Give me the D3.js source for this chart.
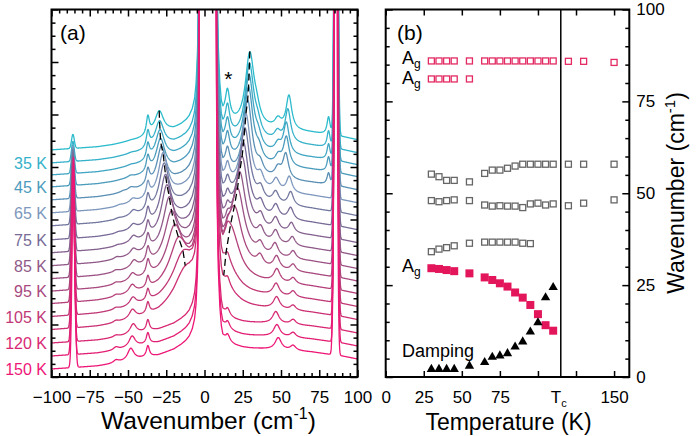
<!DOCTYPE html>
<html><head><meta charset="utf-8">
<script src="https://cdn.jsdelivr.net/npm/d3@7"></script>
<style>
body{margin:0;background:#fff;}
svg{display:block;font-family:"Liberation Sans",Arial,Helvetica,sans-serif;}
</style></head><body>
<svg id="c" width="697" height="436"></svg>
<script>
// ---------- data ----------
const temps = [30,35,40,45,55,65,70,75,80,85,90,95,100,105,110,120,130,150];
const labelTemps = [35,45,65,75,85,95,105,120,150];
// panel (b): mode frequencies (cm-1)
const agHigh = [86.0,86.0,86.0,86.0,86.0,86.0,86.0,86.0,86.0,86.0,86.0,86.0,86.0,86.0,86.0,85.9,85.9,85.6];
const agLowT = [30,35,40,45,55];
const agLow = [81.1,81.1,81.1,81.1,81.1];
const grayTop = [55.2,54.5,53.5,53.5,53.1,55.4,56.3,56.3,56.8,57.4,57.9,57.9,57.9,57.9,57.9,57.9,57.9,57.9];
const grayMid = [48.0,47.7,48.0,48.2,48.0,46.8,46.5,46.6,46.5,46.5,46.1,47.1,47.3,46.8,47.1,46.6,47.3,48.2];
const grayLowT = [30,35,40,45,55,65,70,75,80,85,90,95];
const grayLow = [34.1,34.8,35.2,35.7,36.4,36.7,36.7,36.7,36.7,36.7,36.4,36.3];
const softT = [30,35,40,45,55,65,70,75,80,85,90,95,100,105,110];
const softFreq = [29.6,29.4,29.1,28.8,28.2,27.1,26.4,25.5,24.6,23.0,21.6,19.6,17.1,14.1,12.6];
const damping = [2.1,2.1,2.1,2.1,3.0,4.0,5.4,5.8,6.4,8.2,9.6,12.3,14.8,21.6,24.4];
const Tc = 115;

// panel (a): spectra (arbitrary intensity units)
const offsets = [22.7,21.4,20.2,19.0,17.7,16.4,15.1,13.7,12.4,11.1,9.8,8.55,7.3,6.0,4.7,3.4,2.1,0.8];
const bgWavesL = [-100,-90,-80,-70,-60,-50,-40,-30,-25,-20,-15,-12,-10,-8,-6.5,-5.5,-4.5,-4,-3.7,-3.4];
const bgLevelsL = [0,0.1,0.2,0.3,0.5,0.8,1.1,1.4,1.7,2.0,2.5,2.9,3.3,4.0,5.0,6.5,10,15,22,40];
const bgWavesR = [7.6,7.9,8.3,9,10,11,12,14,17,20,25,30,40,50,60,70,80,90,100];
const bgLevelsR = [40,25,16,10,6.2,4.2,3.3,2.8,2.6,2.4,2.2,2.1,2.0,1.9,1.8,1.7,1.5,1.3,1.0];
const softStokes = [7.4,7.6,7.7,7.7,7.7,7.6,7.5,7.4,7.3,7.0,6.6,5.9,4.9,2.7,1.6];
const softAnti = [2.4,2.7,3.0,3.3,3.8,4.4,4.6,4.8,5.0,5.0,4.8,4.5,4.2,3.8,3.4];
const softWidth = [3.5,3.5,3.5,3.5,3.5,3.7,3.9,4.1,4.4,4.8,5.3,6.0,7.0,8.5,9.5];
const mode86Stokes = [70,70,70,70,70,70,70,70,70,70,70,70,70,70,70,70,70,70];
const mode86Anti = [1.4,2.0,2.8,3.6,5.0,6.5,7.5,8.5,9.5,10.5,11.5,12.5,13.5,14.5,15.5,17,18.5,21];
const mode81Stokes = [1.8,1.7,1.6,1.5,1.2];
const grayTopStokes = [3.4,3.3,3.1,2.9,2.5,1.6,1.4,1.2,1.0,0.9,0.8,0.7,0.6,0.6,0.5,0.5,0.5,0.5];
const grayTopAnti = [0,0,0,0,0.1,0.1,0.1,0.1,0.1,0.2,0.2,0.2,0.2,0.2,0.2,0.2,0.3,0.3];
const grayMidStokes = [0.9,0.9,0.9,0.9,1.0,1.2,1.2,1.3,1.3,1.3,1.3,1.3,1.3,1.2,1.2,1.2,1.2,1.2];
const grayMidAnti = [0.05,0.1,0.1,0.2,0.3,0.4,0.5,0.5,0.6,0.6,0.7,0.7,0.8,0.8,0.9,1.0,1.1,1.2];
const grayLowStokes = [1.0,1.0,1.0,1.0,1.0,1.2,1.2,1.2,1.2,1.2,1.0,1.0];
const grayLowAnti = [0.1,0.1,0.15,0.2,0.25,0.3,0.35,0.4,0.4,0.45,0.45,0.45];
const lineAsterisk = [3.0,2.8,2.6,2.4,2.1,1.8,1.6,1.4,1.2,1.0,0.9,0.8,0.8,0.8,0.8,0.8,0.8,0.8];
const lineM37 = [1.8,1.6,1.5,1.4,1.3,1.2,1.2,1.2,1.1,1.1,1.1,1.1,1.1,1.1,1.1,1.1,1.1,1.1];
const asteriskPos = 15, m37Pos = -37;

const curveColors = ["#2bbbcc","#35b1c9","#40a6c3","#4b9bbc","#5a90b5","#7d97bd","#72789f","#786b98","#84628f","#905a89","#9c5284","#a84a7f","#b4417b","#c03877","#cc3074","#d82873","#e31f74","#ee1677"];

// ---------- setup ----------
const svg = d3.select("#c");
const FONT = '"Liberation Sans",Arial,Helvetica,sans-serif';
const A = {l:51.5, r:357.5, t:9.5, b:377};
const B = {l:385.7, r:629.3, t:9.5, b:377};
const xA = d3.scaleLinear().domain([-100,100]).range([A.l,A.r]);
const yA = d3.scaleLinear().domain([0,36.75]).range([A.b,A.t]);
const xB = d3.scaleLinear().domain([0,160]).range([B.l,B.r]);
const yB = d3.scaleLinear().domain([0,100]).range([B.b,B.t]);

const bgL = d3.scaleLinear().domain(bgWavesL).range(bgLevelsL).clamp(true);
const bgR = d3.scaleLinear().domain(bgWavesR).range(bgLevelsR).clamp(true);
const lor = (w,c,g) => g*g/((w-c)*(w-c)+g*g);
const gau = (w,c,s) => Math.exp(-0.5*((w-c)/s)*((w-c)/s));

function intensity(i,w){
  const T = temps[i];
  let v = offsets[i] + (w<0 ? bgL(w) : bgR(w));
  v += mode86Stokes[i]*gau(w,agHigh[i],0.9) + mode86Anti[i]*gau(w,-agHigh[i],0.9);
  const j81 = agLowT.indexOf(T);
  if (j81>=0) v += mode81Stokes[j81]*lor(w,agLow[j81],1.2);
  v += grayTopStokes[i]*lor(w,grayTop[i],2.2) + grayTopAnti[i]*lor(w,-grayTop[i],2.2);
  v += grayMidStokes[i]*lor(w,grayMid[i],2.5) + grayMidAnti[i]*lor(w,-grayMid[i],2.5);
  const jl = grayLowT.indexOf(T);
  if (jl>=0) v += grayLowStokes[jl]*lor(w,grayLow[jl],2.5) + grayLowAnti[jl]*lor(w,-grayLow[jl],2.5);
  const js = softT.indexOf(T);
  if (js>=0) v += softStokes[js]*lor(w,softFreq[js],softWidth[js]) + softAnti[js]*lor(w,-softFreq[js],softWidth[js]);
  v += lineAsterisk[i]*lor(w,asteriskPos,1.8) + lineM37[i]*lor(w,m37Pos,1.2);
  return v;
}

// ---------- panel (a) ----------
svg.append("defs").append("clipPath").attr("id","clipA").append("rect")
  .attr("x",A.l).attr("y",A.t).attr("width",A.r-A.l).attr("height",A.b-A.t);
const cg = svg.append("g").attr("clip-path","url(#clipA)");
const gridL = d3.range(-100,-3.39,0.2);
const gridR = d3.range(7.6,100.01,0.2);
const lineA = d3.line().x(d=>xA(d[0])).y(d=>yA(d[1]));
temps.forEach((T,i)=>{
  [gridL,gridR].forEach(grid=>{
    cg.append("path").attr("d",lineA(grid.map(w=>[w,intensity(i,w)])))
      .attr("fill","none").attr("stroke",curveColors[i]).attr("stroke-width",1.3)
      .attr("stroke-linejoin","round");
  });
});
// dashed soft-mode guide
const softPts = softT.map((T,j)=>{const i=temps.indexOf(T);return {i,f:softFreq[j]};});
[1,-1].forEach(s=>{
  cg.append("path").attr("d",lineA(softPts.map(p=>[s*p.f,intensity(p.i,s*p.f)])))
    .attr("fill","none").attr("stroke","#000").attr("stroke-width",1.3).attr("stroke-dasharray","7,4");
});
svg.append("text").attr("x",xA(asteriskPos)+1).attr("y",86).attr("text-anchor","middle")
  .attr("font-size",21).attr("font-family",FONT).text("*");

// temperature labels
temps.forEach((T,i)=>{
  if (labelTemps.indexOf(T)<0) return;
  svg.append("text").attr("x",47).attr("y",yA(offsets[i])).attr("dy","0.35em")
    .attr("text-anchor","end").attr("font-size",16).attr("font-family",FONT)
    .attr("fill",curveColors[i]).text(T+" K");
});

function styleAxis(g){
  g.select(".domain").remove();
  g.selectAll(".tick line").attr("stroke","#000").attr("stroke-width",1.5);
  g.selectAll("text").attr("font-size",17).attr("font-family",FONT).attr("fill","#000");
}
const majA = d3.range(-100,101,25), minA = d3.range(-100,101,5).filter(v=>v%25!==0);
const yMaj = d3.range(0,8).map(k=>k*5.25), yMin = d3.range(0,29).map(k=>k*1.3125).filter((v,k)=>k%4!==0);
svg.append("g").attr("transform",`translate(0,${A.b})`)
  .call(d3.axisBottom(xA).tickValues(majA).tickSizeInner(-7).tickSizeOuter(0).tickPadding(14)).call(styleAxis);
svg.append("g").attr("transform",`translate(0,${A.b})`)
  .call(d3.axisBottom(xA).tickValues(minA).tickSize(-4).tickFormat("")).call(styleAxis);
svg.append("g").attr("transform",`translate(0,${A.t})`)
  .call(d3.axisTop(xA).tickValues(majA).tickSize(-7).tickFormat("")).call(styleAxis);
svg.append("g").attr("transform",`translate(0,${A.t})`)
  .call(d3.axisTop(xA).tickValues(minA).tickSize(-4).tickFormat("")).call(styleAxis);
[[A.l,d3.axisLeft],[A.r,d3.axisRight]].forEach(([x,ax])=>{
  svg.append("g").attr("transform",`translate(${x},0)`).call(ax(yA).tickValues(yMaj).tickSize(-7).tickFormat("")).call(styleAxis);
  svg.append("g").attr("transform",`translate(${x},0)`).call(ax(yA).tickValues(yMin).tickSize(-4).tickFormat("")).call(styleAxis);
});
svg.append("rect").attr("x",A.l).attr("y",A.t).attr("width",A.r-A.l).attr("height",A.b-A.t)
  .attr("fill","none").attr("stroke","#000").attr("stroke-width",2);
svg.append("text").attr("x",60).attr("y",39.5).attr("font-size",21).attr("font-family",FONT).text("(a)");
const tA = svg.append("text").attr("x",(A.l+A.r)/2+4).attr("y",429).attr("text-anchor","middle")
  .attr("font-size",24.5).attr("font-family",FONT);
tA.append("tspan").text("Wavenumber (cm");
tA.append("tspan").attr("dy",-10).attr("font-size",16).text("-1");
tA.append("tspan").attr("dy",10).text(")");

// ---------- panel (b) ----------
svg.append("line").attr("x1",xB(Tc)).attr("x2",xB(Tc)).attr("y1",B.t).attr("y2",B.b)
  .attr("stroke","#000").attr("stroke-width",1.5);
const bMaj = d3.range(0,151,25);
svg.append("g").attr("transform",`translate(0,${B.b})`)
  .call(d3.axisBottom(xB).tickValues(bMaj).tickSizeInner(-6).tickSizeOuter(0).tickPadding(14)
  .tickFormat(d=> (d<=75||d===150)? d : "")).call(styleAxis);
svg.append("g").attr("transform",`translate(0,${B.t})`)
  .call(d3.axisTop(xB).tickValues(bMaj).tickSize(-6).tickFormat("")).call(styleAxis);
const bYMaj = d3.range(0,101,25), bYMin = d3.range(0,101,5).filter(v=>v%25!==0);
svg.append("g").attr("transform",`translate(${B.l},0)`).call(d3.axisLeft(yB).tickValues(bYMaj).tickSize(-7).tickFormat("")).call(styleAxis);
svg.append("g").attr("transform",`translate(${B.l},0)`).call(d3.axisLeft(yB).tickValues(bYMin).tickSize(-4).tickFormat("")).call(styleAxis);
svg.append("g").attr("transform",`translate(${B.r},0)`).call(d3.axisRight(yB).tickValues(bYMaj).tickSizeInner(-7).tickSizeOuter(0).tickPadding(7)).call(styleAxis);
svg.append("g").attr("transform",`translate(${B.r},0)`).call(d3.axisRight(yB).tickValues(bYMin).tickSize(-4).tickFormat("")).call(styleAxis);
svg.append("rect").attr("x",B.l).attr("y",B.t).attr("width",B.r-B.l).attr("height",B.b-B.t)
  .attr("fill","none").attr("stroke","#000").attr("stroke-width",2);
// Tc label
const tc = svg.append("text").attr("x",xB(Tc)-2).attr("y",402.5).attr("text-anchor","middle")
  .attr("font-size",17).attr("font-family",FONT);
tc.append("tspan").text("T");
tc.append("tspan").attr("dy",4.5).attr("font-size",11).text("c");

const mg = svg.append("g");
function openSquares(ts, vals, color){
  mg.selectAll(null).data(ts.map((t,k)=>[t,vals[k]])).enter().append("rect")
    .attr("x",d=>xB(d[0])-3).attr("y",d=>yB(d[1])-3).attr("width",6).attr("height",6)
    .attr("fill","none").attr("stroke",color).attr("stroke-width",1.3);
}
openSquares(temps, agHigh, "#e32a63");
openSquares(agLowT, agLow, "#e32a63");
openSquares(temps, grayTop, "#666");
openSquares(temps, grayMid, "#666");
openSquares(grayLowT, grayLow, "#666");
mg.selectAll(null).data(softT.map((t,k)=>[t,softFreq[k]])).enter().append("rect")
  .attr("x",d=>xB(d[0])-4).attr("y",d=>yB(d[1])-4).attr("width",8).attr("height",8)
  .attr("fill","#e3165b");
mg.selectAll(null).data(softT.map((t,k)=>[t,damping[k]])).enter().append("path")
  .attr("transform",d=>`translate(${xB(d[0])},${yB(d[1])})`)
  .attr("d",d3.symbol(d3.symbolTriangle,38)).attr("fill","#000");

function agLabel(x,y){
  const t = svg.append("text").attr("x",x).attr("y",y).attr("font-size",18).attr("font-family",FONT);
  t.append("tspan").text("A");
  t.append("tspan").attr("dy",3.5).attr("font-size",12).text("g");
}
agLabel(402,64); agLabel(402,84); agLabel(402,272);
svg.append("text").attr("x",402).attr("y",357).attr("font-size",18).attr("font-family",FONT).text("Damping");
svg.append("text").attr("x",397).attr("y",39.5).attr("font-size",21).attr("font-family",FONT).text("(b)");
svg.append("text").attr("x",(B.l+B.r)/2+1).attr("y",430).attr("text-anchor","middle")
  .attr("font-size",23).attr("font-family",FONT).text("Temperature (K)");
const tR = svg.append("text").attr("transform","translate(684,193) rotate(-90)").attr("text-anchor","middle")
  .attr("font-size",23).attr("font-family",FONT);
tR.append("tspan").text("Wavenumber (cm");
tR.append("tspan").attr("dy",-9).attr("font-size",15).text("-1");
tR.append("tspan").attr("dy",9).text(")");
</script></body></html>
